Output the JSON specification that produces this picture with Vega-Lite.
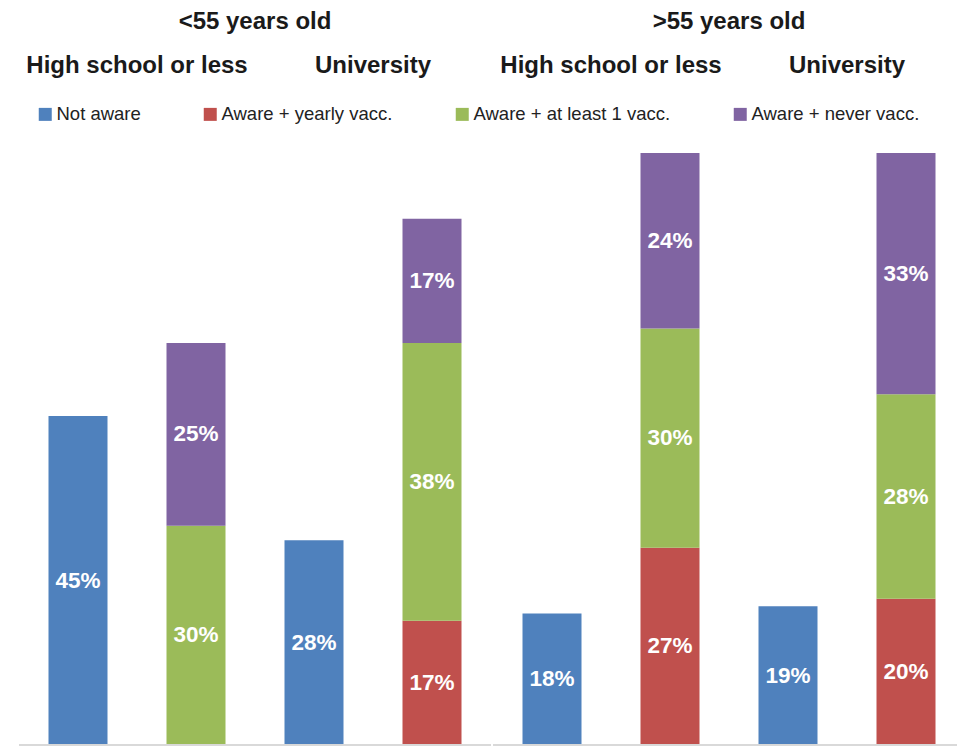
{
  "$schema": "https://vega.github.io/schema/vega-lite/v6.json",
  "padding": {"left": 18, "top": 10, "right": 0, "bottom": 0},
  "background": "white",
  "data": {"values": [
    {"age": "<55 years old", "edu": "High school or less", "kind": "Not aware", "cat": "Not aware", "value": 0.45},
    {"age": "<55 years old", "edu": "High school or less", "kind": "Aware", "cat": "Aware + at least 1 vacc.", "value": 0.30},
    {"age": "<55 years old", "edu": "High school or less", "kind": "Aware", "cat": "Aware + never vacc.", "value": 0.25},
    {"age": "<55 years old", "edu": "University", "kind": "Not aware", "cat": "Not aware", "value": 0.28},
    {"age": "<55 years old", "edu": "University", "kind": "Aware", "cat": "Aware + yearly vacc.", "value": 0.17},
    {"age": "<55 years old", "edu": "University", "kind": "Aware", "cat": "Aware + at least 1 vacc.", "value": 0.38},
    {"age": "<55 years old", "edu": "University", "kind": "Aware", "cat": "Aware + never vacc.", "value": 0.17},
    {"age": ">55 years old", "edu": "High school or less", "kind": "Not aware", "cat": "Not aware", "value": 0.18},
    {"age": ">55 years old", "edu": "High school or less", "kind": "Aware", "cat": "Aware + yearly vacc.", "value": 0.27},
    {"age": ">55 years old", "edu": "High school or less", "kind": "Aware", "cat": "Aware + at least 1 vacc.", "value": 0.30},
    {"age": ">55 years old", "edu": "High school or less", "kind": "Aware", "cat": "Aware + never vacc.", "value": 0.24},
    {"age": ">55 years old", "edu": "University", "kind": "Not aware", "cat": "Not aware", "value": 0.19},
    {"age": ">55 years old", "edu": "University", "kind": "Aware", "cat": "Aware + yearly vacc.", "value": 0.20},
    {"age": ">55 years old", "edu": "University", "kind": "Aware", "cat": "Aware + at least 1 vacc.", "value": 0.28},
    {"age": ">55 years old", "edu": "University", "kind": "Aware", "cat": "Aware + never vacc.", "value": 0.33}
  ]},
  "transform": [
    {"calculate": "indexof(['Not aware','Aware + yearly vacc.','Aware + at least 1 vacc.','Aware + never vacc.'], datum.cat)", "as": "stackOrder"}
  ],
  "facet": {
    "column": {
      "field": "age", "type": "nominal", "sort": ["<55 years old", ">55 years old"],
      "header": {"title": null, "labelFontSize": 24, "labelFontWeight": "bold", "labelFont": "Liberation Sans", "labelColor": "#1a1a1a", "labelPadding": 19, "labelLimit": 0}
    }
  },
  "spacing": 0,
  "spec": {
    "width": 472,
    "height": 592,
    "layer": [
      {
        "mark": {"type": "bar", "strokeWidth": 0},
        "encoding": {
          "x": {"field": "edu", "type": "nominal", "sort": ["High school or less", "University"],
                "scale": {"paddingInner": 0, "paddingOuter": 0},
                "axis": {"orient": "top", "title": null, "domain": false, "ticks": false, "tickSize": 0, "labelAngle": 0,
                         "labelFontSize": 24, "labelFontWeight": "bold", "labelFont": "Liberation Sans", "labelColor": "#1a1a1a",
                         "labelPadding": 4, "offset": 72, "labelLimit": 0}},
          "xOffset": {"field": "kind", "type": "nominal", "sort": ["Not aware", "Aware"], "scale": {"paddingInner": 0.5, "paddingOuter": 0.25}},
          "y": {"field": "value", "type": "quantitative", "stack": "zero", "scale": {"domain": [0, 0.81], "nice": false, "zero": true}, "axis": null},
          "order": {"field": "stackOrder", "type": "quantitative"},
          "color": {
            "field": "cat", "type": "nominal",
            "sort": ["Not aware", "Aware + yearly vacc.", "Aware + at least 1 vacc.", "Aware + never vacc."],
            "scale": {"range": ["#4F81BD", "#C0504D", "#9BBB59", "#8064A2"]},
            "legend": {"title": null, "orient": "none", "legendX": 17, "legendY": -48, "direction": "horizontal", "columns": 4,
                       "columnPadding": 60, "symbolType": "square", "symbolSize": 169, "symbolStrokeWidth": 0, "symbolOpacity": 1,
                       "labelFontSize": 18.5, "labelFont": "Liberation Sans", "labelColor": "#222222", "labelOffset": 2, "padding": 0, "labelLimit": 0}
          }
        }
      },
      {
        "mark": {"type": "text", "color": "white", "font": "Liberation Sans", "fontSize": 22.5, "fontWeight": "bold", "baseline": "middle", "align": "center"},
        "encoding": {
          "x": {"field": "edu", "type": "nominal", "sort": ["High school or less", "University"]},
          "xOffset": {"field": "kind", "type": "nominal", "sort": ["Not aware", "Aware"]},
          "y": {"field": "value", "type": "quantitative", "stack": "zero", "bandPosition": 0.5},
          "order": {"field": "stackOrder", "type": "quantitative"},
          "detail": {"field": "cat", "type": "nominal"},
          "text": {"field": "value", "type": "quantitative", "format": ".0%"}
        }
      },
      {
        "mark": {"type": "rule", "color": "#d9d9d9", "strokeWidth": 1.5},
        "encoding": {"y": {"datum": 0}}
      }
    ]
  },
  "config": {"view": {"stroke": null}, "font": "Liberation Sans"}
}
